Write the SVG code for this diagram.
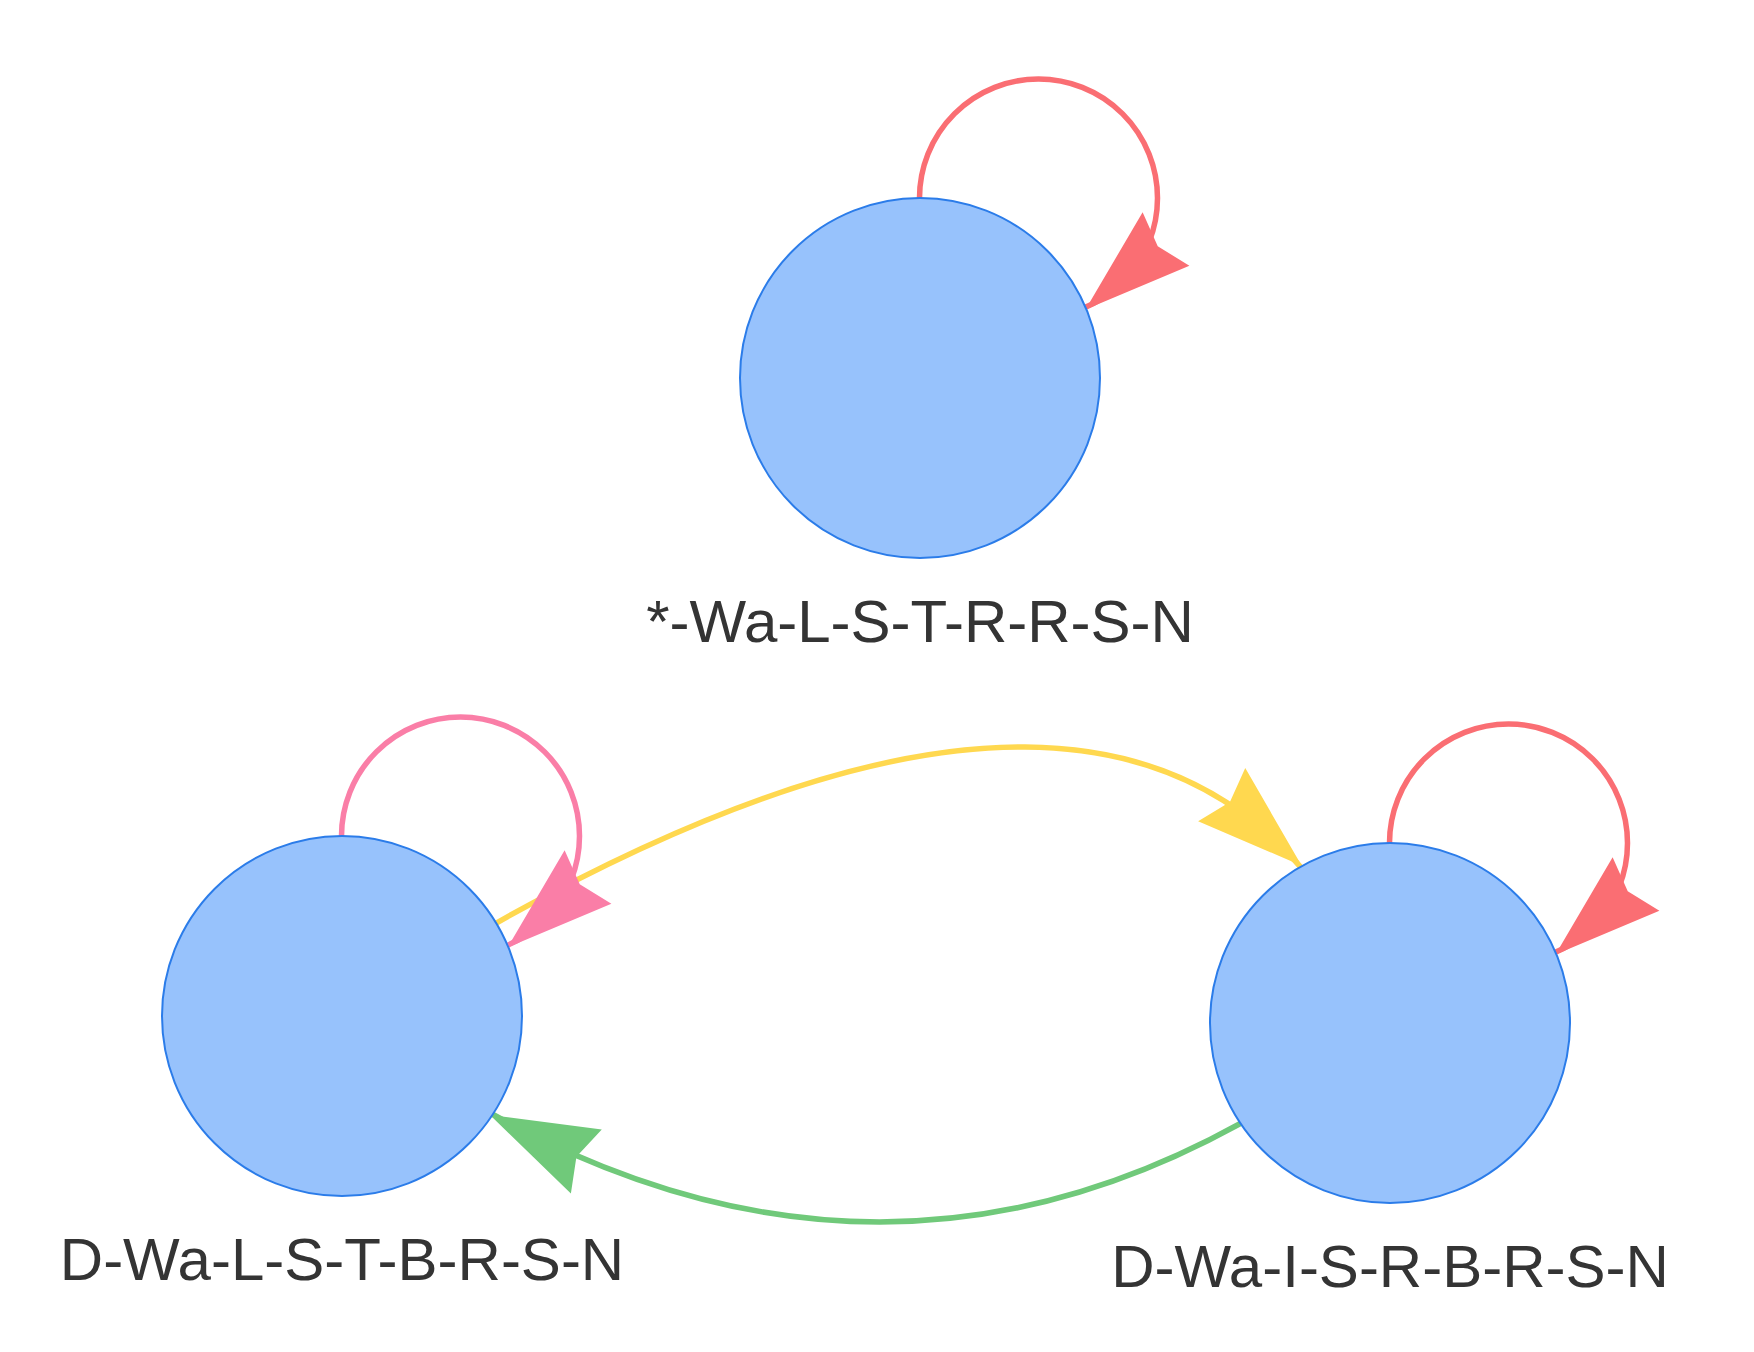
<svg xmlns="http://www.w3.org/2000/svg" width="1754" height="1352" viewBox="0 0 1754 1352">
<defs>
<path id="arrowhead" d="M0,0 L-107,-35.5 L-96,0 L-107,35.5 Z"/>
</defs>
<style>
.node circle{fill:#97C2FC;stroke:#2B7CE9;stroke-width:2}
.node text{font-family:"Liberation Sans",Arial,sans-serif;font-size:60px;fill:#343434;text-anchor:middle}
.edge{fill:none;stroke-width:5.5}
.red{stroke:#FA6E73}
.pink{stroke:#FA7EA7}
</style>
<rect width="1754" height="1352" fill="#ffffff"/>
<g id="connectors">
<path class="edge" d="M342,1016 Q1184,474.5 1390,1023" stroke="#FFD84F"/>
<use href="#arrowhead" transform="translate(1301.7,865.7) rotate(41.6)" fill="#FFD84F"/>
<path class="edge" d="M1390,1023 Q884,1424.5 342,1016" stroke="#70C97A"/>
<use href="#arrowhead" transform="translate(490,1115) rotate(205.8)" fill="#70C97A"/>
<circle class="edge red" cx="1038.5" cy="198" r="119"/>
<use href="#arrowhead" transform="translate(1085.5,309.5) rotate(138.8)" fill="#FA6E73"/>
<circle class="edge pink" cx="460.5" cy="836" r="119"/>
<use href="#arrowhead" transform="translate(507.5,947.5) rotate(138.8)" fill="#FA7EA7"/>
<circle class="edge red" cx="1508.5" cy="843" r="119"/>
<use href="#arrowhead" transform="translate(1555.5,954.5) rotate(138.8)" fill="#FA6E73"/>
</g>
<g id="node-top" class="node">
<circle cx="920" cy="378" r="180"/>
<text x="920" y="642">*-Wa-L-S-T-R-R-S-N</text>
</g>
<g id="node-left" class="node">
<circle cx="342" cy="1016" r="180"/>
<text x="342" y="1280">D-Wa-L-S-T-B-R-S-N</text>
</g>
<g id="node-right" class="node">
<circle cx="1390" cy="1023" r="180"/>
<text x="1390" y="1287">D-Wa-I-S-R-B-R-S-N</text>
</g>
</svg>
